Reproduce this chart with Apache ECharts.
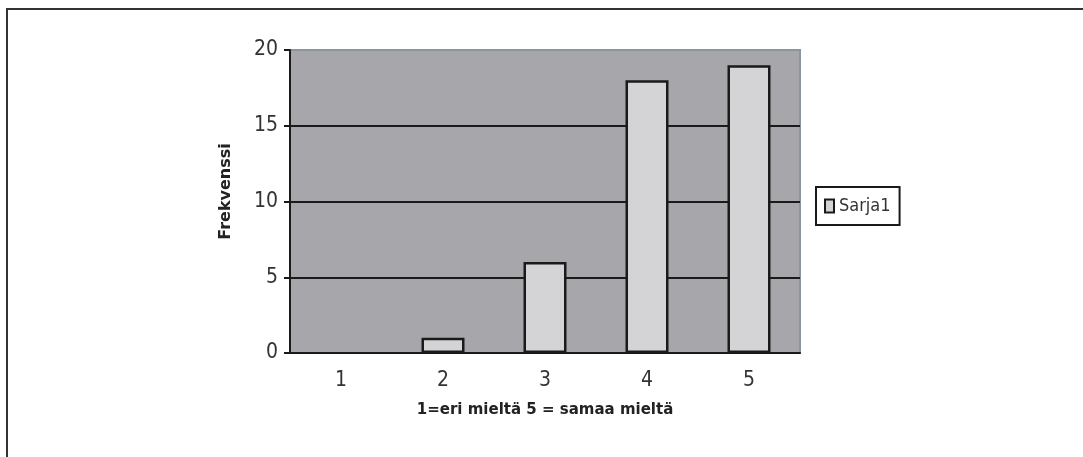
<!DOCTYPE html>
<html>
<head>
    <meta charset="utf-8">
    <title>Frekvenssi</title>
    <script src="https://cdn.jsdelivr.net/npm/echarts@6/dist/echarts.min.js"></script>
    <style>
        body, html { margin: 0; padding: 0; width: 100%; height: 100%; overflow: hidden; background: #fff; }
        #main { width: 1083px; height: 457px; }
    </style>
</head>
<body>
    <div id="main"></div>
    <script>
        // data
        const categories = ['1', '2', '3', '4', '5'];
        const sarja1 = [0, 1, 6, 18, 19];
        const yTicks = { min: 0, max: 20, interval: 5 };

        const labelFont = '"Liberation Sans Narrow", "DejaVu Sans Condensed", sans-serif';
        const boldFont = '"DejaVu Sans", sans-serif';
        const ink = '#1a1a1a';

        var myChart = echarts.init(document.getElementById('main'));

        const option = {
            backgroundColor: '#fff',
            animation: false,
            grid: {
                left: 290, top: 50, width: 510, height: 303,
                show: true,
                backgroundColor: '#a7a7ab',
                borderColor: '#8c959b',
                borderWidth: 2
            },
            legend: {
                data: ['Sarja1'],
                orient: 'vertical',
                left: 816,
                top: 187,
                padding: [10, 9, 10, 8],
                borderColor: ink,
                borderWidth: 2,
                itemWidth: 9,
                itemHeight: 13,
                itemGap: 0,
                icon: 'rect',
                textStyle: { fontFamily: labelFont, fontSize: 18, color: '#333' }
            },
            xAxis: {
                type: 'category',
                data: categories,
                name: '1=eri mieltä 5 = samaa mieltä',
                nameLocation: 'middle',
                nameGap: 50,
                nameTextStyle: { fontFamily: boldFont, fontWeight: 'bold', fontSize: 15, color: '#222' },
                axisLine: { lineStyle: { color: ink, width: 2 } },
                axisTick: { length: 8, lineStyle: { color: ink, width: 2 } },
                axisLabel: { fontFamily: labelFont, fontSize: 21, color: '#333', margin: 17 },
                splitLine: { show: false }
            },
            yAxis: {
                type: 'value',
                min: yTicks.min,
                max: yTicks.max,
                interval: yTicks.interval,
                name: 'Frekvenssi',
                nameLocation: 'middle',
                nameGap: 56,
                nameRotate: 90,
                nameTextStyle: { fontFamily: boldFont, fontWeight: 'bold', fontSize: 16, color: '#222', padding: [0, 0, 0, 20] },
                axisLine: { show: true, lineStyle: { color: ink, width: 2 } },
                axisTick: { show: true, length: 6, lineStyle: { color: ink, width: 2 } },
                axisLabel: { fontFamily: labelFont, fontSize: 21, color: '#333', margin: 12 },
                splitLine: { lineStyle: { color: [ink, ink, ink, ink, '#8c959b'], width: 2 } }
            },
            series: [{
                name: 'Sarja1',
                type: 'bar',
                // a zero bar draws nothing in the original
                data: sarja1.map(v => v === 0 ? { value: v, itemStyle: { borderWidth: 0 } } : v),
                barWidth: 43,
                itemStyle: { color: '#d4d4d6', borderColor: ink, borderWidth: 2.5 }
            }],
            graphic: [{
                type: 'rect',
                shape: { x: 7, y: 9, width: 1200, height: 600 },
                style: { fill: 'none', stroke: '#333', lineWidth: 2 },
                silent: true
            }]
        };

        myChart.setOption(option);
    </script>
</body>
</html>
